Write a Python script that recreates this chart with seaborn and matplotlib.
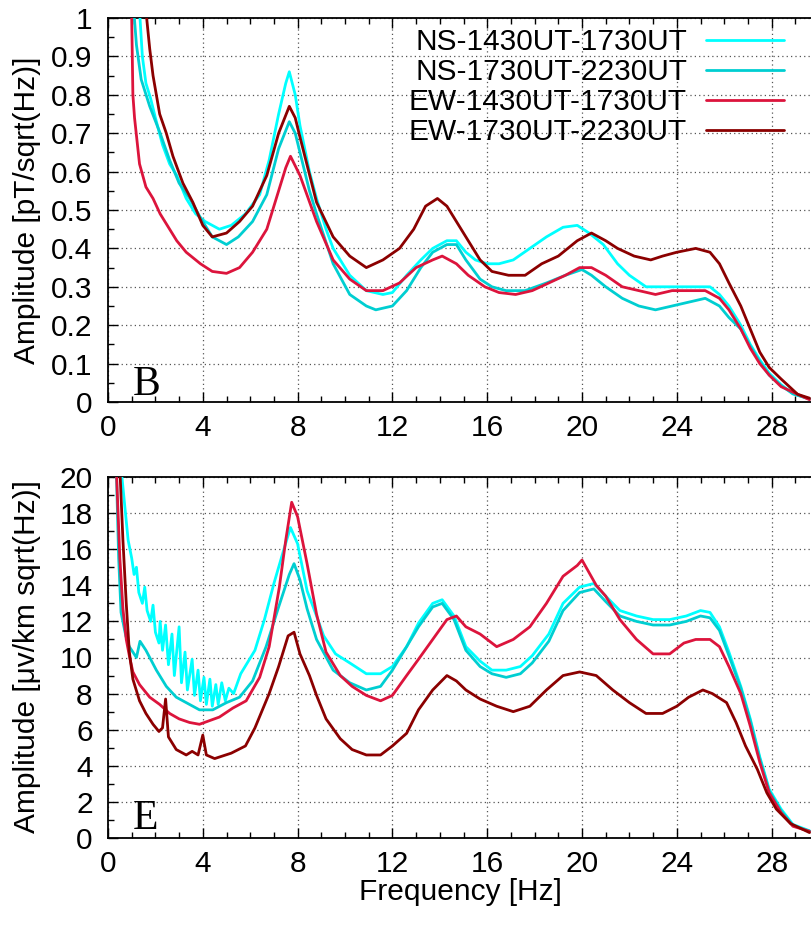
import numpy as np
import pandas as pd
import matplotlib
matplotlib.use("Agg")
import matplotlib.pyplot as plt
import seaborn as sns
from matplotlib.ticker import FixedLocator, MultipleLocator

sns.set_style("ticks")
plt.rcParams["font.family"] = ["Liberation Sans", "DejaVu Sans"]
plt.rcParams["text.color"] = "black"
plt.rcParams["axes.labelcolor"] = "black"
plt.rcParams["xtick.color"] = "black"
plt.rcParams["ytick.color"] = "black"

# ---------------- data ----------------
series_names = ["NS-1430UT-1730UT", "NS-1730UT-2230UT", "EW-1430UT-1730UT", "EW-1730UT-2230UT"]
series_colors = ["#00FFFF", "#00CED1", "#DC143C", "#8B0000"]

# Panel B: magnetic amplitude [pT/sqrt(Hz)]
b_ns1_f = [1.3, 1.45, 1.6, 1.8, 2.0, 2.3, 2.6, 2.9, 3.3, 3.7, 4.1, 4.7, 5.2, 5.8, 6.4, 6.8, 7.2, 7.5, 7.65, 7.9, 8.1, 8.5, 8.8, 9.2, 9.5, 10.2, 10.9, 11.6, 12.0, 12.6, 13.2, 13.7, 14.3, 14.7, 15.1, 15.5, 16.0, 16.5, 17.1, 17.8, 18.5, 19.2, 19.8, 20.3, 20.9, 21.5, 22.0, 22.7, 23.4, 24.1, 24.8, 25.4, 25.8, 26.2, 26.7, 27.1, 27.5, 27.9, 28.4, 28.9, 29.6]
b_ns1_v = [1.05, 0.90, 0.83, 0.79, 0.74, 0.67, 0.62, 0.59, 0.53, 0.49, 0.47, 0.45, 0.46, 0.49, 0.54, 0.63, 0.75, 0.83, 0.86, 0.80, 0.72, 0.60, 0.53, 0.45, 0.40, 0.33, 0.29, 0.28, 0.285, 0.33, 0.37, 0.40, 0.42, 0.42, 0.39, 0.37, 0.36, 0.36, 0.37, 0.40, 0.43, 0.455, 0.46, 0.44, 0.41, 0.36, 0.33, 0.30, 0.30, 0.30, 0.30, 0.30, 0.28, 0.25, 0.20, 0.15, 0.11, 0.075, 0.045, 0.022, 0.008]

b_ns2_f = [1.05, 1.2, 1.4, 1.76, 2.2, 2.6, 3.0, 3.45, 3.9, 4.4, 5.0, 5.5, 6.1, 6.7, 7.2, 7.65, 7.9, 8.1, 8.5, 8.8, 9.5, 10.2, 10.9, 11.3, 12.0, 12.6, 13.2, 13.7, 14.3, 14.7, 15.1, 15.7, 16.2, 16.8, 17.6, 18.5, 19.3, 20.0, 20.4, 21.0, 21.7, 22.4, 23.1, 23.8, 24.5, 25.2, 25.8, 26.2, 26.7, 27.1, 27.5, 27.9, 28.4, 28.9, 29.6]
b_ns2_v = [1.05, 0.93, 0.84, 0.77, 0.70, 0.63, 0.57, 0.53, 0.48, 0.43, 0.41, 0.43, 0.47, 0.54, 0.66, 0.73, 0.70, 0.65, 0.55, 0.49, 0.36, 0.28, 0.25, 0.24, 0.25, 0.29, 0.35, 0.39, 0.41, 0.41, 0.37, 0.32, 0.30, 0.29, 0.29, 0.31, 0.33, 0.345, 0.33, 0.30, 0.27, 0.25, 0.24, 0.25, 0.26, 0.27, 0.25, 0.22, 0.19, 0.145, 0.105, 0.07, 0.043, 0.021, 0.008]

b_ew1_f = [0.7, 1.0, 1.05, 1.12, 1.33, 1.6, 1.9, 2.2, 2.5, 2.9, 3.3, 3.9, 4.4, 5.0, 5.55, 6.1, 6.7, 7.1, 7.5, 7.7, 8.1, 8.8, 9.5, 10.2, 10.9, 11.6, 12.3, 13.0, 13.7, 14.1, 14.7, 15.2, 15.9, 16.5, 17.2, 17.9, 18.6, 19.3, 19.9, 20.4, 21.0, 21.7, 22.4, 23.1, 23.8, 24.5, 25.2, 25.8, 26.2, 26.7, 27.1, 27.5, 27.9, 28.4, 29.1, 29.6]
b_ew1_v = [1.05, 1.0, 0.80, 0.74, 0.62, 0.56, 0.53, 0.49, 0.46, 0.42, 0.39, 0.36, 0.34, 0.335, 0.35, 0.39, 0.45, 0.53, 0.61, 0.64, 0.59, 0.47, 0.37, 0.32, 0.29, 0.29, 0.31, 0.35, 0.37, 0.38, 0.36, 0.33, 0.30, 0.285, 0.28, 0.29, 0.31, 0.33, 0.35, 0.35, 0.33, 0.30, 0.29, 0.28, 0.29, 0.29, 0.29, 0.27, 0.24, 0.19, 0.14, 0.10, 0.07, 0.04, 0.02, 0.006]

b_ew2_f = [1.55, 1.76, 1.9, 2.18, 2.46, 2.74, 3.16, 3.58, 4.0, 4.4, 5.0, 5.55, 6.1, 6.7, 7.2, 7.65, 7.9, 8.1, 8.8, 9.5, 10.2, 10.9, 11.6, 12.3, 12.9, 13.4, 13.9, 14.3, 14.7, 15.1, 15.7, 16.2, 16.9, 17.6, 18.3, 19.0, 19.8, 20.4, 21.0, 21.5, 22.2, 22.9, 23.4, 24.0, 24.8, 25.4, 25.8, 26.2, 26.7, 27.1, 27.5, 27.9, 28.4, 29.1, 29.6]
b_ew2_v = [1.05, 0.92, 0.85, 0.75, 0.70, 0.64, 0.57, 0.52, 0.46, 0.43, 0.44, 0.47, 0.51, 0.59, 0.70, 0.77, 0.74, 0.69, 0.52, 0.43, 0.38, 0.35, 0.37, 0.40, 0.45, 0.51, 0.53, 0.51, 0.47, 0.43, 0.37, 0.34, 0.33, 0.33, 0.36, 0.38, 0.42, 0.44, 0.42, 0.40, 0.38, 0.37, 0.38, 0.39, 0.40, 0.39, 0.36, 0.31, 0.25, 0.19, 0.13, 0.09, 0.06, 0.02, 0.01]

# Panel E: electric amplitude [uV/km sqrt(Hz)]
e_ns1_f = [0.55, 0.7, 0.85, 1.0, 1.1, 1.2, 1.3, 1.45, 1.55, 1.65, 1.8, 1.9, 2.0, 2.15, 2.2, 2.3, 2.43, 2.55, 2.7, 2.8, 3.0, 3.1, 3.25, 3.35, 3.55, 3.65, 3.8, 3.9, 4.05, 4.15, 4.3, 4.4, 4.55, 4.65, 4.8, 4.95, 5.1, 5.3, 5.6, 6.2, 6.6, 7.0, 7.4, 7.7, 8.0, 8.4, 8.8, 9.1, 9.6, 10.2, 10.9, 11.5, 12.0, 12.6, 13.1, 13.7, 14.1, 14.6, 15.1, 15.7, 16.2, 16.8, 17.4, 17.9, 18.6, 19.2, 19.9, 20.5, 21.0, 21.6, 22.3, 23.0, 23.7, 24.4, 25.0, 25.4, 25.8, 26.2, 26.7, 27.1, 27.5, 27.9, 28.4, 28.9, 29.6]
e_ns1_v = [20.5, 18.5, 16.5, 15.5, 14.6, 15.0, 13.6, 13.0, 13.9, 12.6, 12.0, 12.9, 11.4, 10.8, 12.0, 10.4, 11.8, 9.6, 11.3, 9.0, 11.7, 8.6, 10.3, 8.2, 9.9, 7.9, 9.3, 7.6, 8.9, 7.4, 8.8, 7.3, 8.5, 7.4, 8.6, 7.6, 8.3, 8.0, 9.1, 10.4, 12.1, 14.1, 15.9, 17.2, 16.3, 13.7, 12.3, 11.2, 10.2, 9.7, 9.1, 9.1, 9.5, 10.6, 11.9, 13.0, 13.2, 12.3, 10.6, 9.8, 9.3, 9.3, 9.5, 10.1, 11.3, 13.0, 13.9, 14.1, 13.4, 12.6, 12.3, 12.1, 12.1, 12.3, 12.6, 12.5, 11.7, 10.3, 8.4, 6.6, 4.5, 2.7, 1.6, 0.75, 0.4]

e_ns2_f = [0.35, 0.45, 0.55, 0.75, 0.9, 1.2, 1.35, 1.6, 2.04, 2.46, 2.88, 3.3, 3.86, 4.42, 5.0, 5.55, 6.1, 6.67, 7.2, 7.65, 7.85, 8.1, 8.4, 8.8, 9.5, 10.2, 10.9, 11.5, 12.0, 12.6, 13.1, 13.7, 14.1, 14.6, 15.1, 15.7, 16.2, 16.8, 17.4, 17.9, 18.6, 19.2, 19.9, 20.5, 21.0, 21.6, 22.3, 23.0, 23.7, 24.4, 25.0, 25.4, 25.8, 26.2, 26.7, 27.1, 27.5, 27.9, 28.4, 28.9, 29.6]
e_ns2_v = [20.5, 15.5, 12.5, 11.2, 10.6, 10.0, 10.9, 10.4, 9.3, 8.4, 7.8, 7.5, 7.1, 7.1, 7.5, 7.8, 8.7, 10.6, 12.8, 14.6, 15.2, 14.3, 12.7, 11.0, 9.3, 8.6, 8.2, 8.4, 9.3, 10.6, 11.7, 12.8, 13.0, 12.1, 10.4, 9.5, 9.1, 8.9, 9.1, 9.7, 10.9, 12.6, 13.6, 13.8, 13.1, 12.3, 12.0, 11.8, 11.8, 12.0, 12.3, 12.2, 11.5, 10.1, 8.3, 6.5, 4.4, 2.6, 1.5, 0.7, 0.38]

e_ew1_f = [0.35, 0.5, 0.63, 0.77, 0.9, 1.05, 1.33, 1.76, 2.18, 2.6, 3.0, 3.44, 3.86, 4.28, 4.7, 5.27, 5.83, 6.4, 6.8, 7.23, 7.5, 7.75, 8.0, 8.4, 8.8, 9.2, 9.8, 10.3, 10.9, 11.5, 12.0, 12.6, 13.1, 13.7, 14.3, 14.7, 15.1, 15.7, 16.4, 17.1, 17.8, 18.5, 19.2, 19.8, 20.0, 20.6, 21.0, 21.6, 22.3, 23.0, 23.7, 24.3, 24.8, 25.4, 25.8, 26.2, 26.7, 27.1, 27.5, 27.9, 28.4, 28.9, 29.6]
e_ew1_v = [20.5, 15.5, 12.7, 11.0, 10.1, 9.2, 8.5, 7.8, 7.4, 6.9, 6.6, 6.4, 6.3, 6.5, 6.7, 7.2, 7.6, 8.9, 10.6, 13.9, 16.5, 18.6, 17.8, 15.2, 12.4, 10.3, 9.0, 8.4, 7.9, 7.6, 7.9, 9.0, 9.9, 11.0, 12.1, 12.3, 11.7, 11.3, 10.6, 11.0, 11.7, 13.0, 14.5, 15.1, 15.4, 14.0, 13.4, 12.1, 11.0, 10.2, 10.2, 10.8, 11.0, 11.0, 10.6, 9.5, 8.0, 6.2, 4.2, 2.5, 1.4, 0.65, 0.37]

e_ew2_f = [0.5, 0.63, 0.77, 0.9, 1.05, 1.33, 1.6, 1.9, 2.15, 2.3, 2.43, 2.55, 2.88, 3.3, 3.55, 3.8, 4.0, 4.15, 4.5, 5.2, 5.8, 6.2, 6.8, 7.2, 7.6, 7.85, 8.1, 8.5, 8.8, 9.2, 9.8, 10.3, 10.9, 11.5, 12.0, 12.6, 13.1, 13.7, 14.3, 14.7, 15.1, 15.7, 16.4, 17.1, 17.8, 18.5, 19.2, 19.9, 20.6, 21.3, 22.0, 22.7, 23.4, 24.0, 24.5, 25.1, 25.5, 26.1, 26.5, 26.9, 27.4, 27.8, 28.2, 28.8, 29.6]
e_ew2_v = [20.5, 16.5, 13.0, 10.3, 8.8, 7.6, 6.9, 6.3, 5.9, 6.1, 7.7, 5.6, 4.9, 4.6, 4.8, 4.6, 5.7, 4.6, 4.4, 4.7, 5.1, 6.1, 8.0, 9.5, 11.2, 11.4, 10.2, 9.0, 7.9, 6.6, 5.5, 4.9, 4.6, 4.6, 5.1, 5.8, 7.1, 8.2, 9.0, 8.7, 8.2, 7.7, 7.3, 7.0, 7.3, 8.2, 9.0, 9.2, 9.0, 8.2, 7.5, 6.9, 6.9, 7.3, 7.8, 8.2, 8.0, 7.5, 6.4, 5.1, 3.8, 2.5, 1.6, 0.8, 0.3]

x_ticks = [0, 4, 8, 12, 16, 20, 24, 28]
b_yticks = [0, 0.1, 0.2, 0.3, 0.4, 0.5, 0.6, 0.7, 0.8, 0.9, 1]
b_ylabels = ["0", "0.1", "0.2", "0.3", "0.4", "0.5", "0.6", "0.7", "0.8", "0.9", "1"]
e_yticks = [0, 2, 4, 6, 8, 10, 12, 14, 16, 18, 20]

# ---------------- figure ----------------
W, H = 811, 932
fig = plt.figure(figsize=(W / 100, H / 100), dpi=100)
px_per_hz = 23.7
x0 = 108
axw = 30 * px_per_hz / W
axB = fig.add_axes([x0 / W, 1 - 402 / H, axw, (402 - 18) / H])
axE = fig.add_axes([x0 / W, 1 - 838 / H, axw, (838 - 477) / H])

FS = 21.5

def build(fl, vl):
    frames = []
    for name, f, v in zip(series_names, fl, vl):
        frames.append(pd.DataFrame({"freq": f, "amp": v, "series": name}))
    return pd.concat(frames, ignore_index=True)

dfB = build([b_ns1_f, b_ns2_f, b_ew1_f, b_ew2_f], [b_ns1_v, b_ns2_v, b_ew1_v, b_ew2_v])
dfE = build([e_ns1_f, e_ns2_f, e_ew1_f, e_ew2_f], [e_ns1_v, e_ns2_v, e_ew1_v, e_ew2_v])
pal = dict(zip(series_names, series_colors))

for ax, df in [(axB, dfB), (axE, dfE)]:
    sns.lineplot(data=df, x="freq", y="amp", hue="series", hue_order=series_names,
                 palette=pal, sort=False, estimator=None, linewidth=2.0, ax=ax,
                 legend=(ax is axB), zorder=3)
    ax.set_xlim(0, 30)
    ax.xaxis.set_major_locator(FixedLocator(x_ticks))
    ax.xaxis.set_minor_locator(MultipleLocator(1))
    ax.set_xticklabels([str(t) for t in x_ticks])
    ax.set_xlabel("")
    ax.set_ylabel("")
    ax.grid(True, which="major", color="#555555", linestyle=(0, (1, 2.5)), linewidth=0.9, zorder=1)
    ax.tick_params(which="both", direction="in", top=True, right=False, labelsize=FS, width=1.0,
                   color="black", labelcolor="black")
    ax.tick_params(which="major", length=7)
    ax.tick_params(which="minor", length=4)
    ax.tick_params(axis="x", pad=9)
    ax.tick_params(axis="y", pad=11)
    for s in ["left", "bottom", "top"]:
        ax.spines[s].set_linewidth(1.3)
        ax.spines[s].set_color("black")
    ax.spines["right"].set_visible(False)

axB.set_ylim(0, 1)
axB.yaxis.set_major_locator(FixedLocator(b_yticks))
axB.set_yticklabels(b_ylabels)
axB.yaxis.set_minor_locator(MultipleLocator(0.05))
axE.set_ylim(0, 20)
axE.yaxis.set_major_locator(FixedLocator(e_yticks))
axE.set_yticklabels([str(t) for t in e_yticks])
axE.yaxis.set_minor_locator(MultipleLocator(1))

axB.text(1.05, 0.018, "B", family="Liberation Serif", fontsize=30, va="baseline", ha="left", zorder=5)
axE.text(1.05, 0.5, "E", family="Liberation Serif", fontsize=30, va="baseline", ha="left", zorder=5)

leg = axB.legend(loc="upper right", bbox_to_anchor=(784 / W, 1 - 28 / H), bbox_transform=fig.transFigure,
                 frameon=False, fontsize=FS, markerfirst=False, handlelength=2.6,
                 handletextpad=0.65, labelspacing=0.07, borderpad=0, borderaxespad=0)
for line in leg.get_lines():
    line.set_linewidth(2.0)

fig.text(27 / W, 1 - 210 / H, "Amplitude [pT/sqrt(Hz)]", rotation=90, ha="center", va="center", fontsize=FS)
fig.text(27 / W, 1 - 657 / H, "Amplitude [μv/km sqrt(Hz)]", rotation=90, ha="center", va="center", fontsize=FS)
fig.text(460 / W, 1 - 892 / H, "Frequency [Hz]", ha="center", va="center", fontsize=FS)

fig.savefig("out.png", dpi=100)
